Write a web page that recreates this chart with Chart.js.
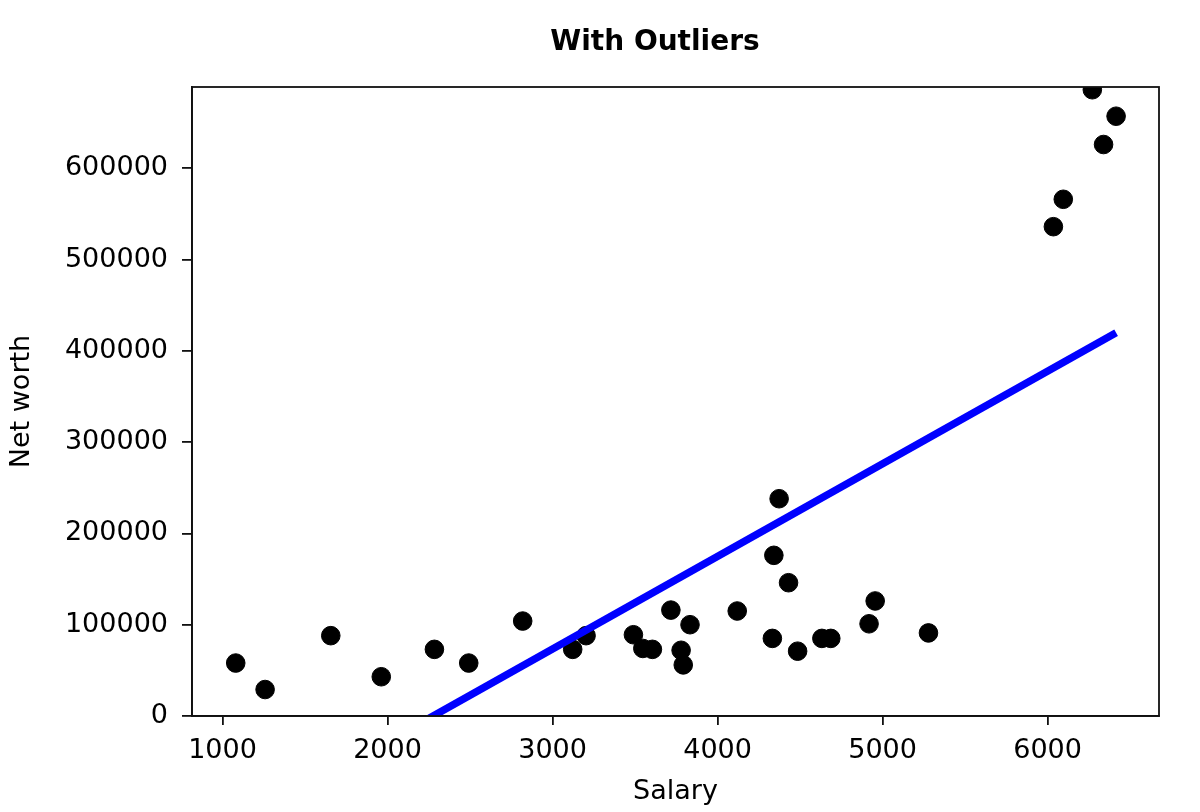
<!DOCTYPE html>
<html><head><meta charset="utf-8">
<script src="https://cdn.jsdelivr.net/npm/chart.js@4"></script>
<style>html,body{margin:0;padding:0;background:#fff}canvas{display:block}</style>
</head><body>
<canvas id="c" width="1200" height="812"></canvas>
<script>
// ---- data ----
const salary = [1080, 1258, 1656, 1962, 2284, 2492, 2819, 3122, 3203, 3490, 3547, 3605, 3717,
                3833, 3779, 3792, 4119, 4373, 4341, 4430, 4332, 4485, 4632, 4686, 4918, 4955, 5278,
                6271, 6415, 6339, 6095, 6035];
const netWorth = [58000, 29000, 88000, 43000, 73000, 58000, 104000, 73000, 88000, 89000, 74000, 73000, 116000,
                  100000, 72000, 56000, 115000, 238000, 176000, 146000, 85000, 71000, 85000, 85000, 101000, 126000, 91000,
                  686000, 657000, 626000, 566000, 536000];
const fitSalary = [1080, 6415];
const fitNetWorth = [-121300, 419700];
const xTickValues = [1000, 2000, 3000, 4000, 5000, 6000];
const yTickValues = [0, 100000, 200000, 300000, 400000, 500000, 600000];
const xRange = [815, 6675];
const yRange = [0, 689000];
const chartTitle = 'With Outliers';
const xTitle = 'Salary';
const yTitle = 'Net worth';

Chart.defaults.font.family = '"DejaVu Sans", sans-serif';
Chart.defaults.color = '#000';

const points = salary.map((x, i) => ({x: x, y: netWorth[i]}));
const fitLine = fitSalary.map((x, i) => ({x: x, y: fitNetWorth[i]}));

const framePlugin = {
  id: 'frame',
  afterLayout(chart) {
    // the reference's title is centred slightly left of the plot area
    if (chart.titleBlock) { chart.titleBlock.left = 110; chart.titleBlock.right = 1200; }
  },
  afterDraw(chart) {
    const {ctx, chartArea: a} = chart;
    ctx.save();
    ctx.strokeStyle = '#111';
    ctx.lineWidth = 1.8;
    ctx.strokeRect(a.left, a.top, a.right - a.left, a.bottom - a.top);
    ctx.restore();
  }
};

const TICK_FONT = {size: 27};

new Chart(document.getElementById('c'), {
  type: 'scatter',
  data: {
    datasets: [
      {
        type: 'line',
        data: fitLine,
        borderColor: '#0000ff',
        borderWidth: 7.5,
        borderCapStyle: 'butt',
        pointRadius: 0,
        fill: false,
        showLine: true,
        clip: 0,
        order: 0
      },
      {
        data: points,
        backgroundColor: '#000',
        borderColor: '#000',
        borderWidth: 1,
        pointRadius: 9.3,
        pointHoverRadius: 9.3,
        clip: 0,
        order: 1
      }
    ]
  },
  options: {
    responsive: false,
    animation: false,
    events: [],
    layout: {padding: {left: 0, right: 41, top: 0, bottom: 0}},
    plugins: {
      legend: {display: false},
      tooltip: {enabled: false},
      title: {
        display: true,
        text: chartTitle,
        font: {size: 28, weight: 'bold'},
        color: '#000',
        padding: {top: 26, bottom: 27.4}
      }
    },
    scales: {
      x: {
        type: 'linear',
        position: 'bottom',
        min: xRange[0],
        max: xRange[1],
        afterBuildTicks(s) { s.ticks = xTickValues.map(v => ({value: v})); },
        afterFit(s) { s.height = 96; },
        ticks: {
          autoSkip: false, maxRotation: 0, font: TICK_FONT, padding: 10, color: '#000',
          callback: v => String(v)
        },
        grid: {drawOnChartArea: false, drawTicks: true, tickLength: 9, color: '#111', lineWidth: 1.8},
        border: {display: true, color: '#111', width: 1.8},
        title: {display: true, text: xTitle, font: {size: 27}, color: '#000', padding: {top: 0, bottom: 3.8}}
      },
      y: {
        type: 'linear',
        position: 'left',
        min: yRange[0],
        max: yRange[1],
        afterBuildTicks(s) { s.ticks = yTickValues.map(v => ({value: v})); },
        afterFit(s) { s.width = 192; },
        ticks: {
          autoSkip: false, font: TICK_FONT, padding: 14, color: '#000',
          callback: v => String(v)
        },
        grid: {drawOnChartArea: false, drawTicks: true, tickLength: 10, color: '#111', lineWidth: 1.8},
        border: {display: true, color: '#111', width: 1.8},
        title: {display: true, text: yTitle, font: {size: 27}, color: '#000', padding: {top: 5.5, bottom: 0}}
      }
    }
  },
  plugins: [framePlugin]
});
</script>
</body></html>
